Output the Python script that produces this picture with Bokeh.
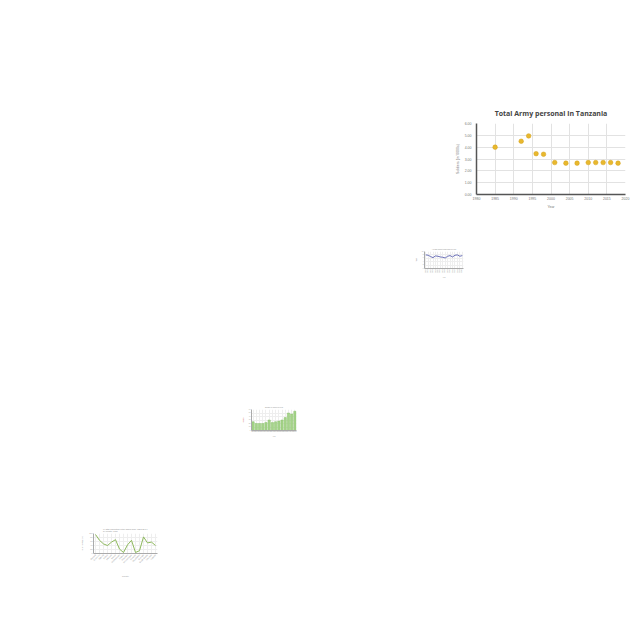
import math
from bokeh.plotting import figure
from bokeh.layouts import column, row, Spacer
from bokeh.models import Range1d, FactorRange, SingleIntervalTicker, NumeralTickFormatter
from bokeh.embed import file_html
from bokeh.resources import INLINE

# ---- main chart data ----
years = [1985, 1992, 1994, 1996, 1998, 2001, 2004, 2007, 2010, 2012, 2014, 2016, 2018]
soldiers = [4.0, 4.5, 4.95, 3.45, 3.4, 2.7, 2.65, 2.65, 2.7, 2.7, 2.7, 2.7, 2.65]

# ---- small line chart (blue) ----
small_line_x = [str(y) for y in range(2000, 2016)]
small_line_y = [8.0, 7.8, 7.0, 6.4, 7.4, 7.2, 6.8, 6.6, 6.2, 7.2, 7.6, 6.8, 7.8, 8.0, 7.2, 7.6]

# ---- small bar chart (green) ----
bar_x = [str(y) for y in range(2003, 2017)]
bar_y = [25, 20, 20, 20, 23, 30, 23, 25, 27, 30, 37, 50, 47, 55]

# ---- bottom line chart (green) ----
countries = ["Burundi", "Comoros", "Djibouti", "Eritrea", "Ethiopia", "Kenya",
             "Madagascar", "Malawi", "Mauritius", "Mozambique", "Rwanda",
             "Seychelles", "Somalia", "South Sudan", "Tanzania", "Uganda"]
country_vals = [95, 66, 48, 40, 57, 69, 22, 5, 43, 66, 5, 14, 83, 53, 57, 40]


def style_small(p, fs):
    p.title.text_font_size = fs
    p.title.text_color = "#888888"
    p.title.align = "center"
    p.title.text_font_style = "normal"
    p.title.standoff = 1
    p.title.offset = 0
    for ax in p.axis:
        ax.major_label_text_font_size = fs
        ax.axis_label_text_font_size = fs
        ax.major_label_text_color = "#999999"
        ax.axis_label_text_color = "#999999"
        ax.axis_label_text_font_style = "normal"
        ax.major_tick_line_color = None
        ax.minor_tick_line_color = None
        ax.major_tick_out = 0
        ax.major_tick_in = 0
        ax.minor_tick_out = 0
        ax.minor_tick_in = 0
        ax.axis_line_color = "#aaaaaa"
        ax.axis_label_standoff = 1
        ax.major_label_standoff = 1
    p.grid.grid_line_color = "#eeeeee"
    p.outline_line_color = None


# main chart
p1 = figure(width=183, height=116, output_backend="svg", toolbar_location=None,
            x_range=Range1d(1980, 2020), y_range=Range1d(0, 6),
            min_border_left=26, min_border_right=8, min_border_top=23, min_border_bottom=22)
p1.title.text = "Total Army personal in Tanzania"
p1.title.text_font = "Open Sans"
p1.title.text_font_size = "7px"
p1.title.text_font_style = "bold"
p1.title.text_color = "#444444"
p1.title.align = "center"
p1.title.standoff = 11
p1.xaxis.ticker = SingleIntervalTicker(interval=5)
p1.yaxis.ticker = SingleIntervalTicker(interval=1)
p1.yaxis.formatter = NumeralTickFormatter(format="0.00")
p1.xaxis.axis_label = "Year"
p1.yaxis.axis_label = "Soldiers (in '0000s)"
for ax in p1.axis:
    ax.major_label_text_font_size = "3.5px"
    ax.axis_label_text_font_size = "3.5px"
    ax.major_label_text_color = "#777777"
    ax.axis_label_text_color = "#777777"
    ax.axis_label_text_font_style = "normal"
    ax.major_tick_line_color = None
    ax.minor_tick_line_color = None
    ax.major_tick_out = 0
    ax.major_tick_in = 0
    ax.minor_tick_out = 0
    ax.minor_tick_in = 0
    ax.axis_line_color = "#555555"
    ax.axis_line_width = 1.5
    ax.axis_label_standoff = 2
    ax.major_label_standoff = 2
p1.yaxis.major_label_standoff = 5
p1.grid.grid_line_color = "#e2e2e2"
p1.outline_line_color = None
p1.scatter(years, soldiers, size=4.6, fill_color="#e8b82e", line_color="#d4a017", line_width=0.5)

# small blue line chart
p2 = figure(width=56, height=36, output_backend="svg", toolbar_location=None,
            x_range=FactorRange(*small_line_x), y_range=Range1d(0, 10),
            min_border_left=12, min_border_right=5, min_border_top=5, min_border_bottom=14)
p2.title.text = "Average annual temperature by year"
p2.xaxis.axis_label = "Year"
p2.yaxis.axis_label = "Temp"
p2.xaxis.major_label_orientation = math.pi / 2
style_small(p2, "1.5px")
p2.line(small_line_x, small_line_y, line_color="#6b70b8", line_width=1)

# small bar chart
p3 = figure(width=59, height=38, output_backend="svg", toolbar_location=None,
            x_range=FactorRange(*bar_x), y_range=Range1d(0, 60),
            min_border_left=11, min_border_right=3, min_border_top=6, min_border_bottom=11)
p3.title.text = "Number of visitors per year"
p3.xaxis.axis_label = "Year"
p3.yaxis.axis_label = "Visitors"
style_small(p3, "1.5px")
p3.yaxis.axis_label_text_color = "#e08080"
p3.vbar(x=bar_x, top=bar_y, width=0.7, fill_color="#a5d48a", line_color="#8cc06e", line_width=0.5)

# bottom green line chart
p4 = figure(width=85, height=59, output_backend="svg", toolbar_location=None,
            x_range=FactorRange(*countries), y_range=Range1d(0, 100),
            min_border_left=16, min_border_right=5, min_border_top=12, min_border_bottom=27)
p4.title.text = "% Total Population in the labour force, ages 15-64,\nby country, 1990"
p4.xaxis.axis_label = "Country"
p4.yaxis.axis_label = "% of population"
p4.xaxis.major_label_orientation = math.pi / 4
style_small(p4, "2px")
p4.title.standoff = 2
p4.yaxis.axis_label_standoff = 3
p4.xaxis.axis_label_standoff = 8
p4.line(countries, country_vals, line_color="#8db85c", line_width=1)

layout = column(
    Spacer(height=100),
    row(Spacer(width=450), p1),
    Spacer(height=30),
    row(Spacer(width=412), p2),
    Spacer(height=121),
    row(Spacer(width=240), p3),
    Spacer(height=80),
    row(Spacer(width=77), p4),
)

open("out.html", "w").write(file_html(layout, INLINE))
